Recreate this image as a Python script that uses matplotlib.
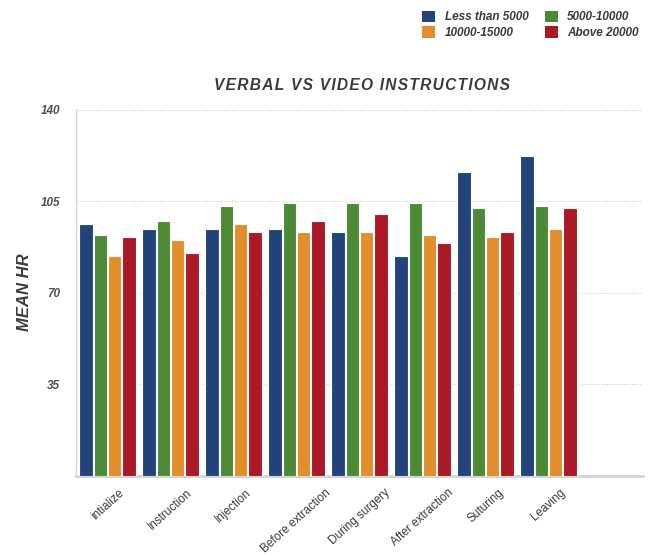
import numpy as np
import matplotlib
matplotlib.use("Agg")
import matplotlib.pyplot as plt
from matplotlib.patches import Patch

# Mean heart rate per procedure stage, grouped by income bracket
stages = ["intialize", "Instruction", "Injection", "Before extraction",
          "During surgery", "After extraction", "Suturing", "Leaving"]
series_names = ["Less than 5000", "5000-10000", "10000-15000", "Above 20000"]
less_5000 = [96.2, 94.3, 94.3, 94.3, 93.3, 84.0, 116.2, 122.3]
from_5000_10000 = [92.0, 97.2, 103.1, 104.4, 104.4, 104.4, 102.2, 103.0]
from_10000_15000 = [84.0, 90.0, 96.2, 93.3, 93.3, 92.0, 91.3, 94.2]
above_20000 = [91.3, 85.1, 93.3, 97.2, 100.2, 89.1, 93.3, 102.2]
y_ticks = [35, 70, 105, 140]

colors = ["#23447a", "#4c8a36", "#e18e2b", "#aa1925"]
series = [less_5000, from_5000_10000, from_10000_15000, above_20000]

text_color = "#3b3b3b"
plt.rcParams["font.family"] = ["Liberation Sans", "DejaVu Sans"]

fig = plt.figure(figsize=(6.54, 5.57), dpi=100)
ax = fig.add_axes([0.1162, 0.1463, 0.8670, 0.6571])

x = np.arange(len(stages))
step = 0.226
width = 0.215
for i, (vals, col) in enumerate(zip(series, colors)):
    offs = (i - 1.5) * step
    ax.bar(x + offs, vals, width=width, color=col, edgecolor="white",
           linewidth=0.8, zorder=3)

ax.set_xlim(-0.5, len(stages) + 0.5)
ax.set_ylim(0, 140)
ax.set_yticks(y_ticks)
ax.set_yticklabels([str(v) for v in y_ticks], fontsize=8.5, style="italic",
                   fontweight="bold", color="#505050")
ax.tick_params(axis="y", length=0, pad=11.5)
ax.set_xticks(x)
ax.set_xticklabels(stages, rotation=42, ha="center", va="top", fontsize=8.5,
                   color=text_color)
ax.tick_params(axis="x", length=0, pad=8)

ax.grid(axis="y", linestyle=(0, (1, 1.5)), color="#cccccc", linewidth=0.8,
        zorder=0)
for side in ["top", "right"]:
    ax.spines[side].set_visible(False)
ax.spines["left"].set_color("#d4d4d4")
ax.spines["left"].set_linewidth(1.0)
ax.spines["bottom"].set_color("#d4d4d4")
ax.spines["bottom"].set_linewidth(2.0)

ax.set_ylabel("MEAN HR", fontsize=12, fontweight="bold", style="italic",
              color=text_color)
ax.yaxis.set_label_coords(-0.078, 0.5)

title = "\u200a".join("VERBAL VS VIDEO INSTRUCTIONS")
fig.text(0.553, 0.847, title, ha="center", va="center", fontsize=11.2,
         fontweight="bold", style="italic", color=text_color)

# two-column legend filled column-first, so interleave the entries
order = [0, 2, 1, 3]
handles = [Patch(facecolor=colors[k], edgecolor="none") for k in order]
labels = [series_names[k] for k in order]
leg = fig.legend(handles, labels, ncol=2, loc="upper right",
                 bbox_to_anchor=(0.993, 1.0), frameon=False,
                 prop={"size": 8.5, "weight": "bold", "style": "italic"},
                 handlelength=1.1, handleheight=1.1, handletextpad=0.8,
                 columnspacing=1.4, labelspacing=0.25)
for t in leg.get_texts():
    t.set_color(text_color)

fig.savefig("out.png", dpi=100)
